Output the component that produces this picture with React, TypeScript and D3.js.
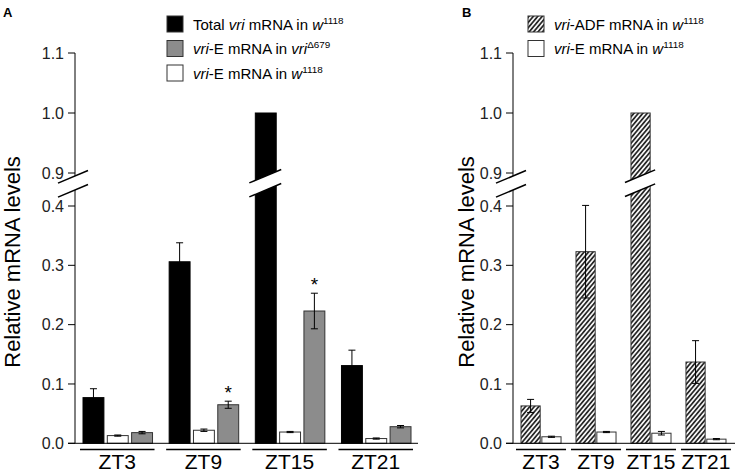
import * as d3 from "d3";

const groups = ["ZT3", "ZT9", "ZT15", "ZT21"];

// panel A
const totalVriW = [0.077, 0.306, 1.0, 0.131];
const totalVriWErr = [0.015, 0.032, 0, 0.026];
const vriEW = [0.013, 0.022, 0.019, 0.008];
const vriEWErr = [0.001, 0.002, 0.001, 0.001];
const vriEDelta = [0.018, 0.065, 0.223, 0.028];
const vriEDeltaErr = [0.002, 0.006, 0.03, 0.002];
const vriEDeltaStar = [false, true, true, false];

// panel B
const vriADF = [0.063, 0.323, 1.0, 0.137];
const vriADFErr = [0.011, 0.078, 0, 0.036];
const vriEWB = [0.011, 0.019, 0.017, 0.007];
const vriEWBErr = [0.001, 0.001, 0.003, 0.001];

const lowTicks = [0, 0.1, 0.2, 0.3, 0.4];
const highTicks = [0.9, 1.0, 1.1];

const FONT = "Liberation Sans, Arial, sans-serif";

type Run = { t: string; i?: boolean; sup?: boolean };
type Series = {
  key: string;
  fill: string;
  values: number[];
  errs: number[];
  stars?: boolean[];
  label: Run[];
};

const seriesA: Series[] = [
  {
    key: "total", fill: "#000", values: totalVriW, errs: totalVriWErr,
    label: [{ t: "Total " }, { t: "vri", i: true }, { t: " mRNA in " }, { t: "w", i: true }, { t: "1118", sup: true }],
  },
  {
    key: "eW", fill: "#fff", values: vriEW, errs: vriEWErr,
    label: [{ t: "vri", i: true }, { t: "-E mRNA in " }, { t: "w", i: true }, { t: "1118", sup: true }],
  },
  {
    key: "eDelta", fill: "#8c8c8c", values: vriEDelta, errs: vriEDeltaErr, stars: vriEDeltaStar,
    label: [{ t: "vri", i: true }, { t: "-E mRNA in " }, { t: "vri", i: true }, { t: "\u0394679", sup: true }],
  },
];
const legendOrderA = ["total", "eDelta", "eW"];

const seriesB: Series[] = [
  {
    key: "adf", fill: "url(#hatch)", values: vriADF, errs: vriADFErr,
    label: [{ t: "vri", i: true }, { t: "-ADF mRNA in " }, { t: "w", i: true }, { t: "1118", sup: true }],
  },
  {
    key: "eW", fill: "#fff", values: vriEWB, errs: vriEWBErr,
    label: [{ t: "vri", i: true }, { t: "-E mRNA in " }, { t: "w", i: true }, { t: "1118", sup: true }],
  },
];
const legendOrderB = ["adf", "eW"];

// broken y axis: two linear pieces
const yLow = d3.scaleLinear().domain([0, 0.4]).range([443.3, 206]);
const yHigh = d3.scaleLinear().domain([0.9, 1.1]).range([173, 53]);
const yPos = (v: number) => (v < 0.9 ? yLow(v) : yHigh(v));
const BREAK_TOP = 176;
const BREAK_BOT = 190;
const SLOPE = 0.42;

function RichText({ runs, x, y, size }: { runs: Run[]; x: number; y: number; size: number }) {
  return (
    <text x={x} y={y} fontSize={size} fontFamily={FONT} fill="#000">
      {runs.map((r, i) => (
        <tspan
          key={i}
          fontStyle={r.i ? "italic" : "normal"}
          fontSize={r.sup ? size * 0.66 : size}
          dy={r.sup ? -size * 0.38 : 0}
        >
          {r.t}
        </tspan>
      ))}
    </text>
  );
}

function BreakMark({ xc, left, right }: { xc: number; left: number; right: number }) {
  const yAt = (c: number, x: number) => c - SLOPE * (x - xc);
  const pts = [
    [left, yAt(BREAK_TOP, left)],
    [right, yAt(BREAK_TOP, right)],
    [right, yAt(BREAK_BOT, right)],
    [left, yAt(BREAK_BOT, left)],
  ];
  return (
    <g>
      <polygon points={pts.map((p) => p.join(",")).join(" ")} fill="#fff" />
      <line x1={left} y1={pts[0][1]} x2={right} y2={pts[1][1]} stroke="#000" strokeWidth={1.5} />
      <line x1={left} y1={pts[3][1]} x2={right} y2={pts[2][1]} stroke="#000" strokeWidth={1.5} />
    </g>
  );
}

type PanelProps = {
  letter: string;
  letterX: number;
  axisX: number;
  axisEnd: number;
  labelX: number;
  groupRange: [number, number];
  groupPad: number;
  innerPad: [number, number];
  innerPadding: number;
  series: Series[];
  legendOrder: string[];
  legendX: number;
  legendY: number;
  labelSize: number;
};

function Panel(p: PanelProps) {
  const xGroup = d3.scaleBand().domain(groups).range(p.groupRange).paddingInner(p.groupPad).paddingOuter(0);
  const bw = xGroup.bandwidth();
  const xInner = d3
    .scaleBand()
    .domain(p.series.map((s) => s.key))
    .range([p.innerPad[0], bw - p.innerPad[1]])
    .paddingInner(p.innerPadding)
    .paddingOuter(0);
  const barW = xInner.bandwidth();
  const y0 = yLow(0);
  const fmt = d3.format(".1f");

  const bars: JSX.Element[] = [];
  const errs: JSX.Element[] = [];
  const breaks: JSX.Element[] = [];
  const stars: JSX.Element[] = [];
  p.series.forEach((s) => {
    groups.forEach((g, gi) => {
      const x = (xGroup(g) ?? 0) + (xInner(s.key) ?? 0);
      const v = s.values[gi];
      const top = yPos(v);
      bars.push(
        <rect key={`${s.key}-${g}`} x={x} y={top} width={barW} height={y0 - top}
          fill={s.fill} stroke={s.fill === "#000" ? "#000" : "#333"} strokeWidth={1} />
      );
      const e = s.errs[gi];
      const cx = x + barW / 2;
      if (e > 0) {
        const yt = yPos(v + e);
        const yb = yPos(v - e);
        errs.push(
          <g key={`e-${s.key}-${g}`} stroke="#000" strokeWidth={1}>
            <line x1={cx} x2={cx} y1={yt} y2={yb} />
            <line x1={cx - 3.5} x2={cx + 3.5} y1={yt} y2={yt} />
            <line x1={cx - 3.5} x2={cx + 3.5} y1={yb} y2={yb} />
          </g>
        );
        if (s.stars && s.stars[gi]) {
          stars.push(
            <text key={`s-${s.key}-${g}`} x={cx} y={yt - 2} textAnchor="middle" fontSize={19} fontFamily={FONT}>*</text>
          );
        }
      }
      if (v >= 0.9) {
        breaks.push(<BreakMark key={`b-${s.key}-${g}`} xc={cx} left={x - 6} right={x + barW + 5} />);
      }
    });
  });

  const legendItems = p.legendOrder.map((k) => p.series.find((s) => s.key === k)!);

  return (
    <g>
      <text x={p.letterX} y={17} fontSize={13} fontWeight="bold" fontFamily={FONT}>{p.letter}</text>
      {bars}
      {errs}
      {stars}
      {/* axes */}
      <line x1={p.axisX} x2={p.axisX} y1={yHigh(1.1)} y2={y0} stroke="#000" strokeWidth={1} />
      <line x1={p.axisX - 7} x2={p.axisEnd} y1={y0} y2={y0} stroke="#000" strokeWidth={1} />
      {[...lowTicks.map((t) => ({ t, y: yLow(t) })), ...highTicks.map((t) => ({ t, y: yHigh(t) }))].map(({ t, y }) => (
        <g key={t}>
          <line x1={p.axisX - 7} x2={p.axisX} y1={y} y2={y} stroke="#000" strokeWidth={1} />
          <text x={p.axisX - 11} y={y} dy="0.36em" textAnchor="end" fontSize={16} fontFamily={FONT} fill="#222">
            {fmt(t)}
          </text>
        </g>
      ))}
      <BreakMark xc={p.axisX} left={p.axisX - 17} right={p.axisX + 13} />
      {breaks}
      {/* group underlines and labels */}
      {groups.map((g) => {
        const gx = xGroup(g) ?? 0;
        return (
          <g key={g}>
            <line x1={gx} x2={gx + bw} y1={449.5} y2={449.5} stroke="#000" strokeWidth={1.5} />
            <text x={gx + bw / 2} y={469} textAnchor="middle" fontSize={p.labelSize} fontFamily={FONT}>{g}</text>
          </g>
        );
      })}
      <text
        transform={`translate(${p.labelX},262) rotate(-90)`}
        textAnchor="middle"
        fontSize={22}
        fontFamily={FONT}
      >
        Relative mRNA levels
      </text>
      {/* legend */}
      {legendItems.map((s, i) => {
        const ly = p.legendY + i * 24.5;
        return (
          <g key={s.key}>
            <rect x={p.legendX} y={ly} width={16} height={16} fill={s.fill} stroke="#333" strokeWidth={1} />
            <RichText runs={s.label} x={p.legendX + 26} y={ly + 13.5} size={15} />
          </g>
        );
      })}
    </g>
  );
}

export default function App() {
  return (
    <svg width={736} height={475} style={{ position: "absolute", left: 0, top: 0, background: "#fff" }}>
      <defs>
        <pattern id="hatch" patternUnits="userSpaceOnUse" width={3.4} height={3.4} patternTransform="rotate(40)">
          <rect width={3.4} height={3.4} fill="#f4f4f4" />
          <line x1={0.85} y1={0} x2={0.85} y2={3.4} stroke="#1a1a1a" strokeWidth={1.6} />
        </pattern>
      </defs>
      <Panel
        letter="A" letterX={3} axisX={75} axisEnd={418} labelX={20}
        groupRange={[80, 413]} groupPad={0.135} innerPad={[3, 2]} innerPadding={0.14}
        series={seriesA} legendOrder={legendOrderA} legendX={167} legendY={16} labelSize={21}
      />
      <Panel
        letter="B" letterX={462} axisX={513} axisEnd={735} labelX={474}
        groupRange={[516, 731]} groupPad={0.09} innerPad={[5, 5]} innerPadding={0.08}
        series={seriesB} legendOrder={legendOrderB} legendX={528} legendY={16} labelSize={21}
      />
    </svg>
  );
}
